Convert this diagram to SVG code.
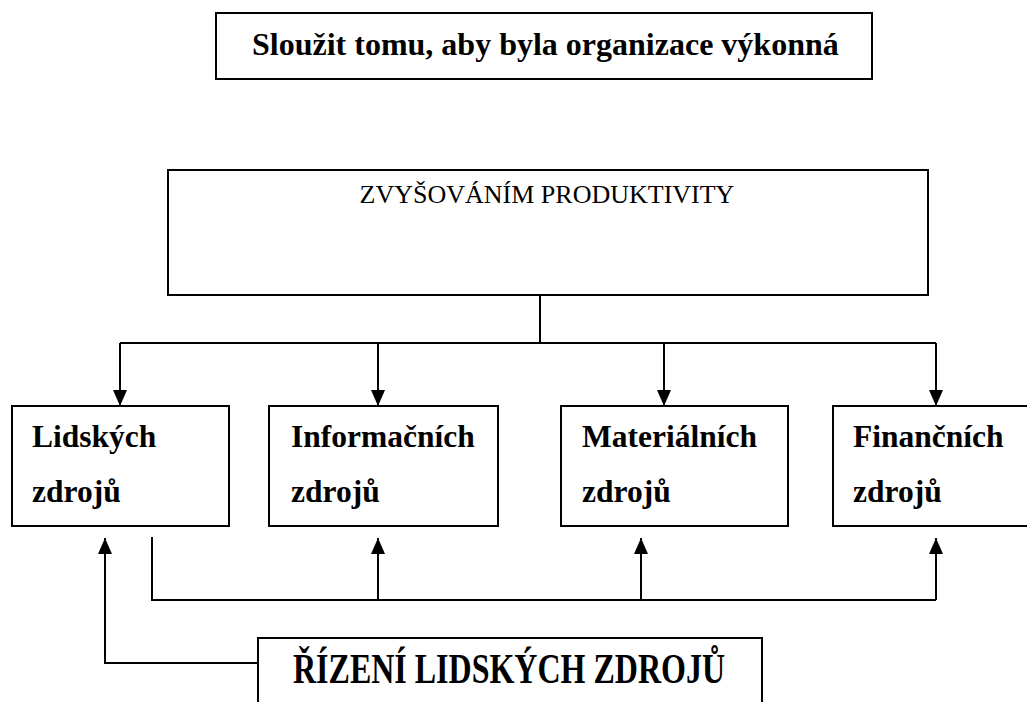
<svg xmlns="http://www.w3.org/2000/svg" width="1027" height="702" viewBox="0 0 1027 702">
<style>
text{font-family:"Liberation Serif",Tinos,"DejaVu Serif","Noto Serif",serif;fill:#000}
.b{font-weight:bold;font-size:31.5px}
.box{fill:#fff;stroke:#000;stroke-width:2}
.ln{fill:none;stroke:#000;stroke-width:2}
</style>
<defs>
<marker id="ah" markerUnits="userSpaceOnUse" markerWidth="16" markerHeight="16" viewBox="0 0 16 16" refX="16" refY="8" orient="auto">
<path d="M0,1 L16,8 L0,15 Z" fill="#000"/>
</marker>
</defs>
<rect width="1027" height="702" fill="#fff"/>
<g id="connectors">
<line class="ln" x1="540" y1="295" x2="540" y2="343"/>
<line class="ln" x1="120" y1="343" x2="936" y2="343"/>
<line class="ln" x1="120" y1="343" x2="120" y2="406" marker-end="url(#ah)"/>
<line class="ln" x1="378" y1="343" x2="378" y2="406" marker-end="url(#ah)"/>
<line class="ln" x1="664" y1="343" x2="664" y2="406" marker-end="url(#ah)"/>
<line class="ln" x1="936" y1="343" x2="936" y2="406" marker-end="url(#ah)"/>
<polyline class="ln" points="152,537 152,600 936,600"/>
<line class="ln" x1="378" y1="600" x2="378" y2="538" marker-end="url(#ah)"/>
<line class="ln" x1="641" y1="600" x2="641" y2="538" marker-end="url(#ah)"/>
<line class="ln" x1="936" y1="600" x2="936" y2="538" marker-end="url(#ah)"/>
<polyline class="ln" points="258,663 105,663 105,538" marker-end="url(#ah)"/>
</g>
<g id="goal">
<rect class="box" x="216" y="13" width="656" height="66"/>
<text x="252" y="55" font-weight="bold" font-size="32">Sloužit tomu, aby byla organizace výkonná</text>
</g>
<g id="productivity">
<rect class="box" x="168" y="170" width="760" height="125"/>
<text x="547" y="203" text-anchor="middle" font-size="26">ZVYŠOVÁNÍM PRODUKTIVITY</text>
</g>
<g id="lidske">
<rect class="box" x="12" y="406" width="217" height="120"/>
<text class="b" x="32" y="447">Lidských</text>
<text class="b" x="32" y="502">zdrojů</text>
</g>
<g id="informacni">
<rect class="box" x="269" y="406" width="229" height="120"/>
<text class="b" x="291" y="447">Informačních</text>
<text class="b" x="291" y="502">zdrojů</text>
</g>
<g id="materialni">
<rect class="box" x="561" y="406" width="227" height="120"/>
<text class="b" x="582" y="447">Materiálních</text>
<text class="b" x="582" y="502">zdrojů</text>
</g>
<g id="financni">
<rect class="box" x="833" y="406" width="200" height="120"/>
<text class="b" x="853" y="447">Finančních</text>
<text class="b" x="853" y="502">zdrojů</text>
</g>
<g id="rizeni">
<rect class="box" x="258" y="638" width="504" height="80"/>
<text transform="translate(509,683) scale(1,1.3)" text-anchor="middle" font-weight="bold" font-size="32">ŘÍZENÍ LIDSKÝCH ZDROJŮ</text>
</g>
</svg>
